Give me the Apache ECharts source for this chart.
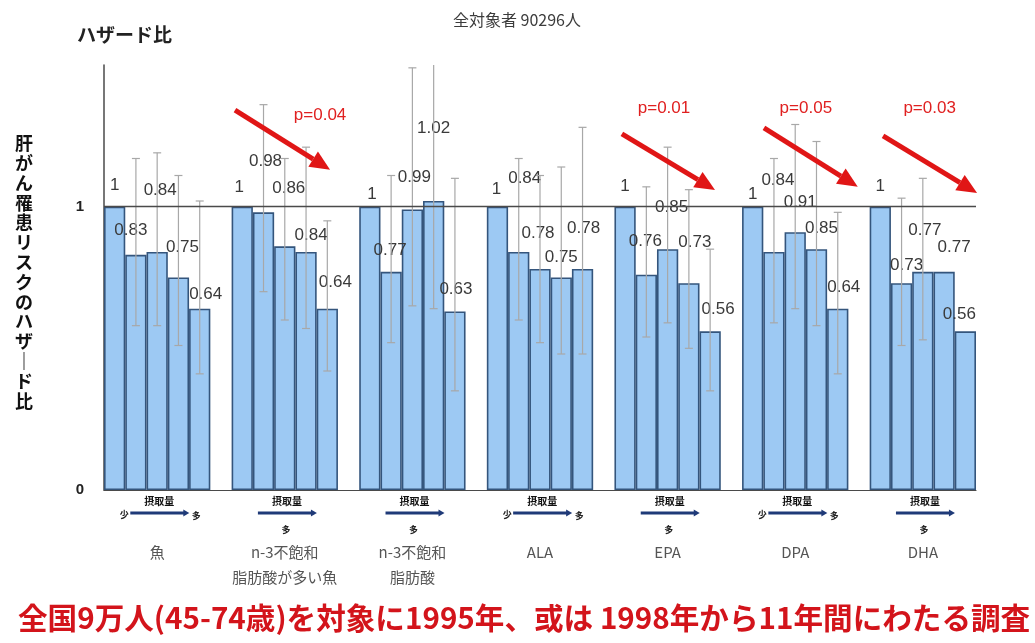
<!DOCTYPE html>
<html>
<head>
<meta charset="utf-8">
<script src="https://cdn.jsdelivr.net/npm/echarts/dist/echarts.min.js"></script>
<style>
  html, body { margin: 0; padding: 0; background: #fff; }
  #chart { width: 1035px; height: 643px; }
</style>
</head>
<body>
<div id="chart"></div>
<script>
// Intake groups (fish and n-3 fatty acids), five intake quintiles each
const groups = ['魚', 'n-3不飽和\n脂肪酸が多い魚', 'n-3不飽和\n脂肪酸', 'ALA', 'EPA', 'DPA', 'DHA'];

// Hazard ratios per quintile (lowest intake = reference 1)
const hazardRatio = [
  [1, 0.83, 0.84, 0.75, 0.64],
  [1, 0.98, 0.86, 0.84, 0.64],
  [1, 0.77, 0.99, 1.02, 0.63],
  [1, 0.84, 0.78, 0.75, 0.78],
  [1, 0.76, 0.85, 0.73, 0.56],
  [1, 0.84, 0.91, 0.85, 0.64],
  [1, 0.73, 0.77, 0.77, 0.56]
];

// 95% confidence interval bounds
const ciLower = [
  [null, 0.58, 0.58, 0.51, 0.41],
  [null, 0.70, 0.60, 0.57, 0.42],
  [null, 0.52, 0.65, 0.64, 0.35],
  [null, 0.60, 0.52, 0.48, 0.48],
  [null, 0.54, 0.59, 0.50, 0.35],
  [null, 0.59, 0.64, 0.58, 0.41],
  [null, 0.51, 0.53, null, null]
];
const ciUpper = [
  [null, 1.17, 1.19, 1.11, 1.02],
  [null, 1.36, 1.17, 1.21, 0.95],
  [null, 1.11, 1.49, 1.60, 1.10],
  [null, 1.17, 1.11, 1.14, 1.28],
  [null, 1.07, 1.21, 1.06, 0.85],
  [null, 1.17, 1.29, 1.23, 0.98],
  [null, 1.03, 1.10, null, null]
];

// P for trend (empty = not significant)
const trendP = ['', 'p=0.04', '', '', 'p=0.01', 'p=0.05', 'p=0.03'];

// Labelled ticks on the hazard-ratio axis
const yTickLabels = [0, 1];

// ---- layout (label nudges and annotation placement) ----
const labelNudge = [
  [[0, -21], [-5, -25], [3, -62], [4, -30], [6, -14]],
  [[-3, -19], [2, -51], [4, -58], [5, -17], [8, -26]],
  [[2, -12], [-1, -22], [2, -32], [0, -73], [1, -22]],
  [[-1, -17], [6, -74], [-2, -36], [0, -20], [1, -41]],
  [[0, -20], [-1, -33], [4, -42], [6, -41], [8, -22]],
  [[0, -12], [4, -72], [5, -30], [5, -21], [6, -21]],
  [[0, -20], [5, -18], [2, -42], [10, -25], [-6, -17]]
];
// trend arrow: [start slot offset, start value, tip slot offset, tip value, p-label slot offset, p-label value]
const trendArrowLayout = [
  null,
  [0.16, 1.341, 4.63, 1.13, 4.16, 1.324],
  null,
  null,
  [0.35, 1.257, 4.73, 1.059, 2.33, 1.348],
  [1.03, 1.278, 5.44, 1.07, 3.0, 1.348],
  [0.63, 1.25, 5.05, 1.048, 2.82, 1.348]
];
// intake legend beneath each group: 'ends' = 少 … 多 at both ends, 'below' = mark under the arrow
const intakeLegendStyle = ['ends', 'below', 'below', 'ends', 'below', 'ends', 'below'];

const SLOTS_PER_GROUP = 6; // five bars + one empty spacer
const slotNames = [];
const barData = [];
const errData = [];
groups.forEach((g, gi) => {
  for (let s = 0; s < SLOTS_PER_GROUP; s++) {
    const idx = gi * SLOTS_PER_GROUP + s;
    if (s < 5) {
      slotNames.push(g + '-Q' + (s + 1));
      const nudge = labelNudge[gi][s];
      barData.push({ value: hazardRatio[gi][s], label: { offset: nudge } });
      if (ciLower[gi][s] != null) errData.push([idx, ciLower[gi][s], ciUpper[gi][s]]);
    } else if (gi < groups.length - 1) {
      slotNames.push(g + '-gap');
      barData.push('-');
    }
  }
});

const chart = echarts.init(document.getElementById('chart'));
const numFont = '"Liberation Sans", Arial, sans-serif';
const jpFont = '"Noto Sans CJK JP", "Noto Sans", sans-serif';

chart.setOption({
  animation: false,
  backgroundColor: '#ffffff',
  grid: { left: 104, right: 59, top: 65, bottom: 153 },
  xAxis: {
    type: 'category',
    data: slotNames,
    boundaryGap: true,
    axisTick: { show: false },
    axisLine: { lineStyle: { color: '#4a4a4a', width: 1.2 } },
    axisLabel: {
      interval: 0,
      margin: 50,
      verticalAlign: 'top',
      lineHeight: 25,
      fontSize: 15,
      color: '#555',
      fontFamily: jpFont,
      formatter: (v, i) => (i % SLOTS_PER_GROUP === 2 ? groups[Math.floor(i / SLOTS_PER_GROUP)] : '')
    }
  },
  yAxis: {
    type: 'value',
    min: 0,
    max: 1.5,
    interval: 0.5,
    splitLine: { show: false },
    axisTick: { show: false },
    axisLine: { show: true, lineStyle: { color: '#4a4a4a', width: 1.5 } },
    axisLabel: {
      margin: 20,
      fontSize: 15,
      fontWeight: 'bold',
      color: '#222',
      fontFamily: numFont,
      formatter: v => (yTickLabels.indexOf(v) >= 0 ? String(v) : '')
    }
  },
  series: [
    {
      type: 'bar',
      data: barData,
      barCategoryGap: '0%',
      itemStyle: { color: '#9dc9f3', borderColor: '#34557c', borderWidth: 1.6 },
      label: {
        show: true,
        position: 'top',
        distance: 0,
        verticalAlign: 'middle',
        fontSize: 17,
        color: '#3a3a3a',
        fontFamily: numFont,
        formatter: p => String(p.value)
      },
      markLine: {
        silent: true,
        symbol: 'none',
        label: { show: false },
        lineStyle: { color: '#4a4a4a', width: 1.3, type: 'solid' },
        data: [{ yAxis: 1 }]
      },
      z: 2
    },
    {
      type: 'custom',
      data: errData,
      encode: { x: 0, y: [1, 2] },
      clip: true,
      z: 3,
      renderItem: (params, api) => {
        const x = api.value(0);
        const lo = api.coord([x, api.value(1)]);
        const hi = api.coord([x, api.value(2)]);
        const cap = 4;
        const style = { stroke: '#a8a8a8', lineWidth: 1.2 };
        return {
          type: 'group',
          children: [
            { type: 'line', shape: { x1: lo[0], y1: lo[1], x2: hi[0], y2: hi[1] }, style },
            { type: 'line', shape: { x1: lo[0] - cap, y1: lo[1], x2: lo[0] + cap, y2: lo[1] }, style },
            { type: 'line', shape: { x1: hi[0] - cap, y1: hi[1], x2: hi[0] + cap, y2: hi[1] }, style }
          ]
        };
      }
    }
  ]
});

// ---- annotations placed through the chart's own coordinate system ----
function slotX(gi, offset) {
  const c0 = chart.convertToPixel({ gridIndex: 0 }, [0, 0])[0];
  const c1 = chart.convertToPixel({ gridIndex: 0 }, [1, 0])[0];
  const w = c1 - c0;
  const left = chart.convertToPixel({ gridIndex: 0 }, [gi * SLOTS_PER_GROUP, 0])[0] - w / 2;
  return left + offset * w;
}
function valY(v) {
  return chart.convertToPixel({ gridIndex: 0 }, [0, v])[1];
}

const gfx = [];

// trend arrows and p values
trendArrowLayout.forEach((a, gi) => {
  if (!a) return;
  const x0 = slotX(gi, a[0]), y0 = valY(a[1]);
  const x1 = slotX(gi, a[2]), y1 = valY(a[3]);
  const ang = Math.atan2(y1 - y0, x1 - x0);
  const headLen = 20, headHalf = 9;
  const bx = x1 - headLen * Math.cos(ang), by = y1 - headLen * Math.sin(ang);
  const nx = -Math.sin(ang), ny = Math.cos(ang);
  gfx.push({
    type: 'line',
    shape: { x1: x0, y1: y0, x2: bx, y2: by },
    style: { stroke: '#e01616', lineWidth: 5 },
    z: 10
  });
  gfx.push({
    type: 'polygon',
    shape: { points: [[x1, y1], [bx + nx * headHalf, by + ny * headHalf], [bx - nx * headHalf, by - ny * headHalf]] },
    style: { fill: '#e01616' },
    z: 10
  });
  gfx.push({
    type: 'text',
    x: slotX(gi, a[4]),
    y: valY(a[5]),
    style: {
      text: trendP[gi], fill: '#e02020', font: '17px ' + numFont,
      align: 'center', verticalAlign: 'middle'
    },
    z: 10
  });
});

// intake direction legend under each group
groups.forEach((g, gi) => {
  const cx = slotX(gi, 2.6);
  const yAxis0 = valY(0);
  gfx.push({
    type: 'text', x: cx, y: yAxis0 + 11,
    style: { text: '摂取量', fill: '#111', font: 'bold 10px ' + jpFont, align: 'center', verticalAlign: 'middle' }
  });
  const ax0 = cx - 29, ax1 = cx + 29, ay = yAxis0 + 23;
  gfx.push({
    type: 'line', shape: { x1: ax0, y1: ay, x2: ax1 - 4, y2: ay },
    style: { stroke: '#1f3a78', lineWidth: 3 }
  });
  gfx.push({
    type: 'polygon', shape: { points: [[ax1 + 1, ay], [ax1 - 5, ay - 3.5], [ax1 - 5, ay + 3.5]] },
    style: { fill: '#1f3a78' }
  });
  if (intakeLegendStyle[gi] === 'ends') {
    gfx.push({ type: 'text', x: ax0 - 6, y: ay + 2,
      style: { text: '少', fill: '#222', font: 'bold 9px ' + jpFont, align: 'center', verticalAlign: 'middle' } });
    gfx.push({ type: 'text', x: ax1 + 8, y: ay + 3,
      style: { text: '多', fill: '#222', font: 'bold 9px ' + jpFont, align: 'center', verticalAlign: 'middle' } });
  } else {
    gfx.push({ type: 'text', x: cx - 1, y: ay + 17,
      style: { text: '多', fill: '#222', font: 'bold 9px ' + jpFont, align: 'center', verticalAlign: 'middle' } });
  }
});

// headings and notes
gfx.push({
  type: 'text', x: 517, y: 20,
  style: { text: '全対象者 90296人', fill: '#3c3c3c', font: '16px ' + jpFont, align: 'center', verticalAlign: 'middle' }
});
gfx.push({
  type: 'text', x: 77, y: 35,
  style: { text: 'ハザード比', fill: '#222', font: 'bold 19px ' + jpFont, align: 'left', verticalAlign: 'middle' }
});
gfx.push({
  type: 'text', x: 24, y: 272,
  style: {
    text: '肝がん罹患リスクのハザ｜ド比'.split('').join('\n'),
    fill: '#111', font: 'bold 18px ' + jpFont, lineHeight: 19.8,
    align: 'center', verticalAlign: 'middle'
  }
});
gfx.push({
  type: 'text', x: 18, y: 618,
  style: {
    text: '全国9万人(45-74歳)を対象に1995年、或は 1998年から11年間にわたる調査',
    fill: '#d3141b', font: 'bold 29.6px ' + jpFont, align: 'left', verticalAlign: 'middle'
  }
});

chart.setOption({ graphic: gfx });
</script>
</body>
</html>
